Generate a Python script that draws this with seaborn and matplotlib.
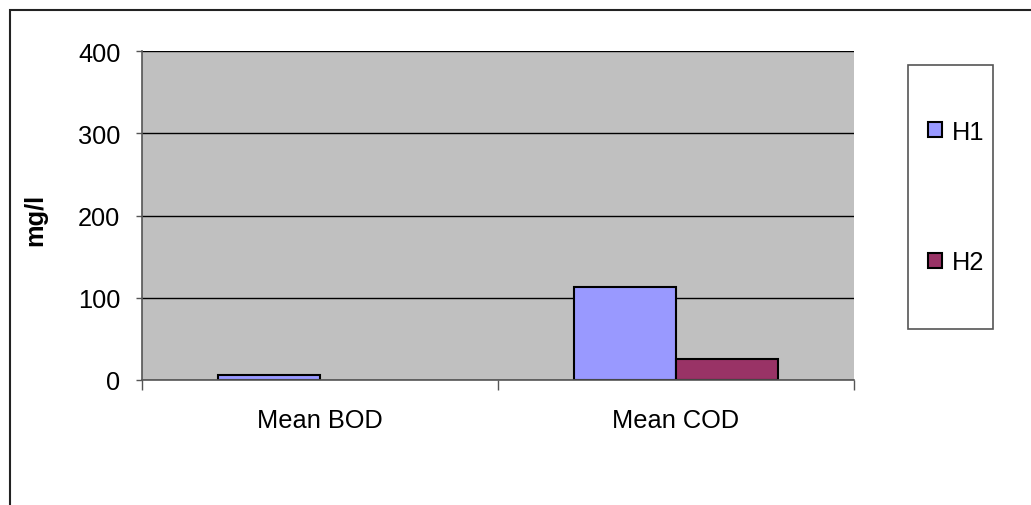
import matplotlib
matplotlib.use("Agg")
import matplotlib.pyplot as plt
from matplotlib.patches import Rectangle, Patch
import seaborn as sns
import pandas as pd

# Mean oxygen demand per site (mg/l); no H2 value was recorded for BOD
categories = ["Mean BOD", "Mean COD", "Mean COD"]
series = ["H1", "H1", "H2"]
values = [6.5, 113, 25.5]
hue_order = ["H1", "H2"]
palette = {"H1": "#9999FF", "H2": "#993366"}
y_ticks = [0, 100, 200, 300, 400]

df = pd.DataFrame({"param": categories, "site": series, "mg_l": values})

sns.set_style("white")
plt.rcParams["font.family"] = ["Liberation Sans", "DejaVu Sans"]
plt.rcParams["text.color"] = "black"
plt.rcParams["xtick.labelcolor"] = "black"
plt.rcParams["ytick.labelcolor"] = "black"
FS = 18.3

W, H = 1031, 506
fig = plt.figure(figsize=(W / 100, H / 100), dpi=100)
fig.patch.set_facecolor("white")

ax = fig.add_axes([142 / W, (H - 381) / H, 712 / W, 329 / H])
ax.set_facecolor("#C0C0C0")

sns.barplot(data=df, x="param", y="mg_l", hue="site", hue_order=hue_order,
            order=["Mean BOD", "Mean COD"], palette=palette, width=0.573,
            edgecolor="black", linewidth=1.5, ax=ax, legend=False, errorbar=None,
            saturation=1)

ax.set_xlim(-0.5, 1.5)
ax.set_ylim(0, 400)
ax.set_yticks(y_ticks)
ax.set_axisbelow(True)
ax.yaxis.grid(True, color="black", linewidth=1)
ax.xaxis.grid(False)

for side in ["top", "right"]:
    ax.spines[side].set_visible(False)
ax.spines["left"].set_color("#555555")
ax.spines["bottom"].set_color("#555555")
ax.spines["left"].set_linewidth(1.2)
ax.spines["bottom"].set_linewidth(1.2)

ax.set_xlabel("")
ax.set_ylabel("")
ax.tick_params(axis="y", which="major", length=4.5, width=1, color="#555555",
               direction="out", left=True, pad=11, labelsize=FS,
               labelcolor="black")
ax.tick_params(axis="x", which="major", length=0, pad=20, labelsize=FS,
               labelcolor="black")
ax.set_xticks([-0.5, 0.5, 1.5], minor=True)
ax.tick_params(axis="x", which="minor", length=7, width=1, color="#555555",
               direction="out", bottom=True)

fig.text(35 / W, (H - 220) / H, "mg/l", rotation=90, fontsize=FS,
         fontweight="bold", ha="center", va="center", color="black")

# legend box
fig.add_artist(Rectangle((908 / W, (H - 330) / H), 85 / W, 264 / H,
                         transform=fig.transFigure, facecolor="white",
                         edgecolor="#555555", linewidth=1.2))
handles = [Patch(facecolor=palette[s], edgecolor="black", linewidth=1.5, label=s)
           for s in hue_order]
fig.legend(handles=handles, loc="center",
           bbox_to_anchor=(956 / W, (H - 198) / H), frameon=False,
           fontsize=FS, labelspacing=4.2, handlelength=0.55, handleheight=0.55,
           handletextpad=0.4, borderpad=0, labelcolor="black")

# outer chart frame
fig.add_artist(Rectangle((9.5 / W, -0.2), 1.2, 1.2 - 11 / H,
                         transform=fig.transFigure, facecolor="none",
                         edgecolor="#222222", linewidth=1.5))

fig.savefig("out.png", dpi=100)
